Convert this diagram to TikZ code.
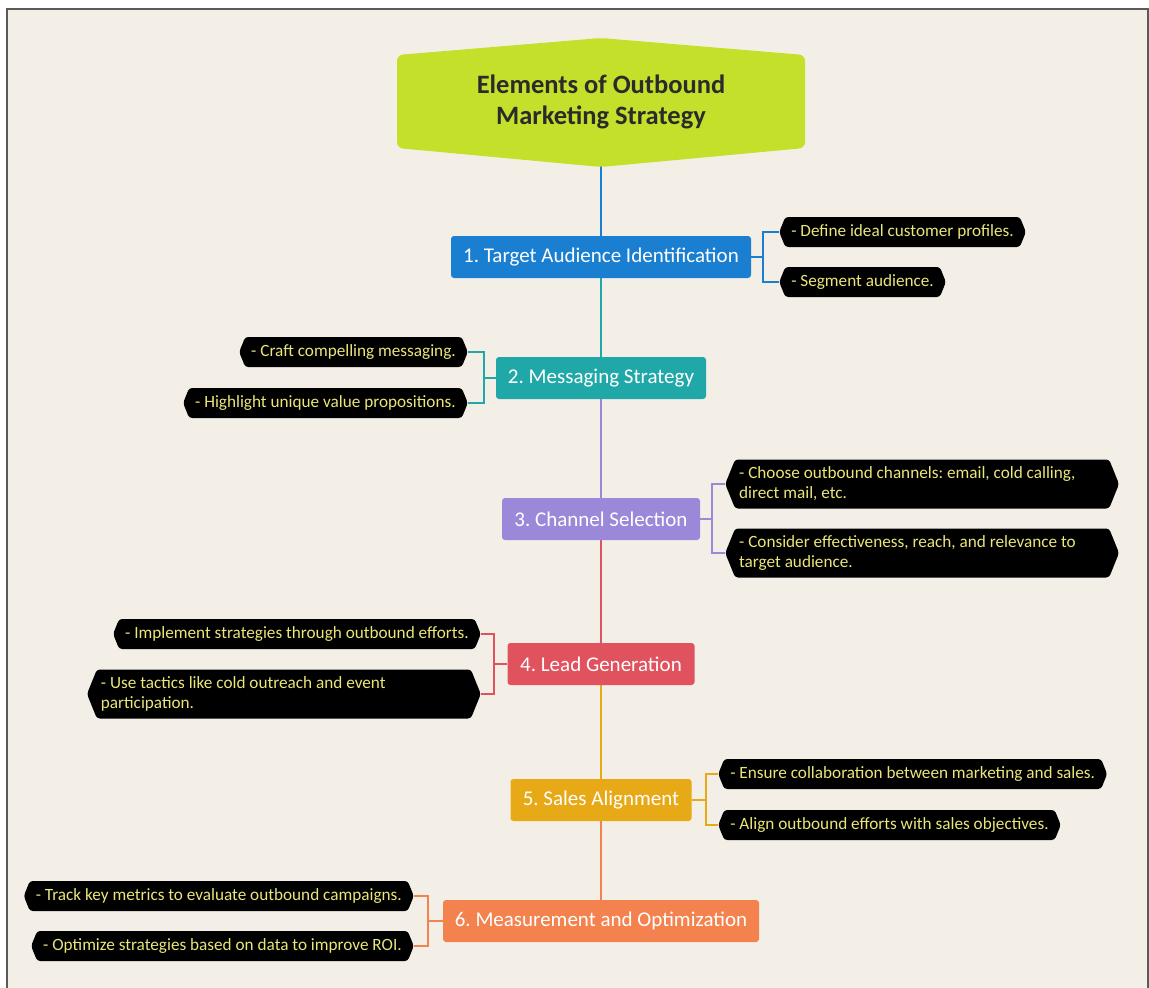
\documentclass[tikz,border=0pt]{standalone}
\usepackage{fontspec}
\setmainfont{Carlito}
\usetikzlibrary{shapes.symbols}

\definecolor{paper}{HTML}{F3EFE7}
\definecolor{framegray}{HTML}{5A5A5A}
\definecolor{lime}{HTML}{C4E02A}
\definecolor{titleink}{HTML}{2B2B2B}
\definecolor{cblue}{HTML}{1B7FD1}
\definecolor{cteal}{HTML}{20A8A9}
\definecolor{cpurple}{HTML}{9B88D8}
\definecolor{cred}{HTML}{E1525F}
\definecolor{camber}{HTML}{E8A916}
\definecolor{corange}{HTML}{F3824F}
\definecolor{noteink}{HTML}{EAE679}

\pgfdeclarelayer{paperlayer}
\pgfdeclarelayer{background}
\pgfsetlayers{paperlayer,background,main}

\tikzset{
  titlebox/.style={rectangle, minimum width=408pt, minimum height=93pt,
    inner sep=0pt, text=titleink, align=center,
    font=\fontsize{26.5}{31}\selectfont\bfseries},
  stepbox/.style={rectangle, rounded corners=3pt, fill=#1, text=white,
    minimum height=42pt, inner sep=0pt,
    font=\fontsize{21}{24}\selectfont},
  notebox/.style={signal, signal to=west and east, signal pointer angle=136,
    fill=black, rounded corners=3pt, text=noteink, minimum height=30pt,
    inner xsep=6pt, inner ysep=3pt, align=flush left,
    font=\fontsize{17.2}{20}\selectfont},
  widenote/.style={notebox, text width=366pt, inner xsep=4pt, minimum height=49pt},
  trunk/.style={draw=#1, line width=2.4pt},
  branch/.style={draw=#1, line width=1.8pt},
}

\begin{document}
\frenchspacing
\begin{tikzpicture}[x=1pt, y=-1pt]
  % page and paper sheet with its frame
  \useasboundingbox (0,0) rectangle (1149,988);
  \begin{pgfonlayer}{paperlayer}
    \fill[white] (0,0) rectangle (1149,988);
    \fill[paper] (7,9) rectangle (1148,988);
    \draw[framegray, line width=1.5pt] (7,988) -- (7,9) -- (1148,9) -- (1148,988);
  \end{pgfonlayer}

  % title: lime hexagon with the heading on top
  \fill[lime, rounded corners=6pt]
    (397,55) -- (601,38) -- (805,55) -- (805,148) -- (601,167) -- (397,148) -- cycle;
  \node[titlebox] (title) at (601,101.5) {Elements of Outbound\\Marketing Strategy};

  % main steps
  \node[stepbox=cblue,   minimum width=300pt] (s1) at (601,257) {1. Target Audience Identification};
  \node[stepbox=cteal,   minimum width=210pt] (s2) at (601,378) {2. Messaging Strategy};
  \node[stepbox=cpurple, minimum width=198pt] (s3) at (601,519) {3. Channel Selection};
  \node[stepbox=cred,    minimum width=187pt] (s4) at (601,664) {4. Lead Generation};
  \node[stepbox=camber,  minimum width=181pt] (s5) at (601,800) {5. Sales Alignment};
  \node[stepbox=corange, minimum width=316pt] (s6) at (601,921) {6. Measurement and Optimization};

  % trunk, kept behind the title and the boxes
  \begin{pgfonlayer}{background}
    \draw[trunk=cblue]   (title.south) -- (s1.north);
    \draw[trunk=cteal]   (s1.south) -- (s2.north);
    \draw[trunk=cpurple] (s2.south) -- (s3.north);
    \draw[trunk=cred]    (s3.south) -- (s4.north);
    \draw[trunk=camber]  (s4.south) -- (s5.north);
    \draw[trunk=corange] (s5.south) -- (s6.north);
  \end{pgfonlayer}

  % notes
  \node[notebox, anchor=west] (n1a) at (779,232) {- Define ideal customer profiles.};
  \node[notebox, anchor=west] (n1b) at (779,282) {- Segment audience.};

  \node[notebox, anchor=east] (n2a) at (468,352) {- Craft compelling messaging.};
  \node[notebox, anchor=east] (n2b) at (468,403) {- Highlight unique value propositions.};

  \node[widenote, anchor=west] (n3a) at (725,484) {- Choose outbound channels: email, cold calling,\\direct mail, etc.};
  \node[widenote, anchor=west] (n3b) at (725,553) {- Consider effectiveness, reach, and relevance to\\target audience.};

  \node[notebox, anchor=east] (n4a) at (481,634) {- Implement strategies through outbound efforts.};
  \node[widenote, anchor=east] (n4b) at (481,694) {- Use tactics like cold outreach and event\\participation.};

  \node[notebox, anchor=west] (n5a) at (718,774) {- Ensure collaboration between marketing and sales.};
  \node[notebox, anchor=west] (n5b) at (718,825) {- Align outbound efforts with sales objectives.};

  \node[notebox, anchor=east] (n6a) at (414,896) {- Track key metrics to evaluate outbound campaigns.};
  \node[notebox, anchor=east] (n6b) at (414,946) {- Optimize strategies based on data to improve ROI.};

  % brackets
  \draw[branch=cblue]   (s1.east) -- ++(12,0) |- (n1a.west);
  \draw[branch=cblue]   (s1.east) -- ++(12,0) |- (n1b.west);
  \draw[branch=cteal]   (s2.west) -- ++(-12,0) |- (n2a.east);
  \draw[branch=cteal]   (s2.west) -- ++(-12,0) |- (n2b.east);
  \draw[branch=cpurple] (s3.east) -- ++(12,0) |- (n3a.west);
  \draw[branch=cpurple] (s3.east) -- ++(12,0) |- (n3b.west);
  \draw[branch=cred]    (s4.west) -- ++(-13,0) |- (n4a.east);
  \draw[branch=cred]    (s4.west) -- ++(-13,0) |- (n4b.east);
  \draw[branch=camber]  (s5.east) -- ++(14,0) |- (n5a.west);
  \draw[branch=camber]  (s5.east) -- ++(14,0) |- (n5b.west);
  \draw[branch=corange] (s6.west) -- ++(-15,0) |- (n6a.east);
  \draw[branch=corange] (s6.west) -- ++(-15,0) |- (n6b.east);
\end{tikzpicture}
\end{document}
